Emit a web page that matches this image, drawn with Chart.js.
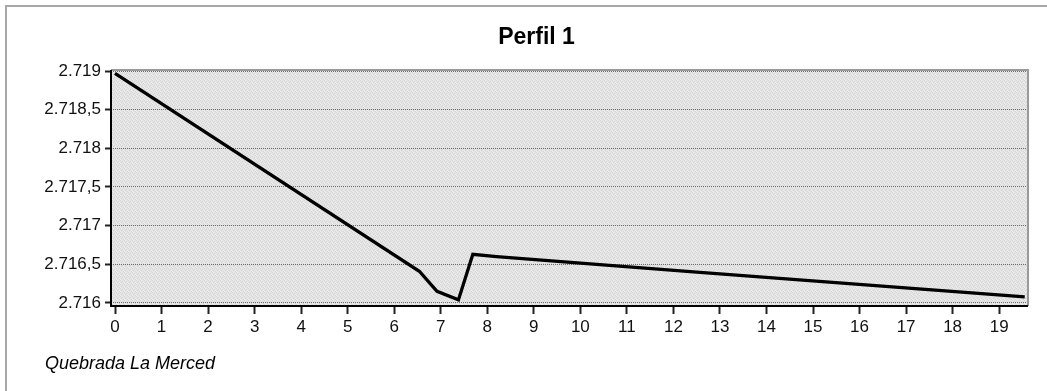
<!DOCTYPE html>
<html>
<head>
<meta charset="utf-8">
<script src="https://cdn.jsdelivr.net/npm/chart.js@4"></script>
<style>
  html, body { margin: 0; padding: 0; background: #fff; }
  #wrap { position: absolute; left: 0; top: 0; width: 1047px; height: 391px; }
</style>
</head>
<body>
<div id="wrap"><canvas id="c" width="1047" height="391"></canvas></div>
<script>
// ---- data ----
const distances = [0.0, 6.54, 6.92, 7.38, 7.69, 8.2, 12.5, 19.55];
const elevations = [2718.97, 2716.41, 2716.15, 2716.04, 2716.63, 2716.60, 2716.40, 2716.08];
const xTickValues = [0,1,2,3,4,5,6,7,8,9,10,11,12,13,14,15,16,17,18,19];
const xTickLabels = ['0','1','2','3','4','5','6','7','8','9','10','11','12','13','14','15','16','17','18','19'];
const yTickValues = [2716, 2716.5, 2717, 2717.5, 2718, 2718.5, 2719];
const yTickLabels = ['2.716', '2.716,5', '2.717', '2.717,5', '2.718', '2.718,5', '2.719'];
const titleText = 'Perfil 1';
const footerText = 'Quebrada La Merced';

// background pattern for the plot area
const pc = document.createElement('canvas');
pc.width = 4; pc.height = 4;
const px = pc.getContext('2d');
px.fillStyle = '#e4e4e4'; px.fillRect(0, 0, 4, 4);
px.fillStyle = '#d4d4d4';
[[0,0],[2,1],[1,2],[3,3]].forEach(p => px.fillRect(p[0], p[1], 1, 1));
px.fillStyle = '#eeeeee';
[[1,0],[3,2],[0,3]].forEach(p => px.fillRect(p[0], p[1], 1, 1));

const decor = {
  id: 'decor',
  beforeDraw(chart) {
    const ctx = chart.ctx;
    const a = chart.chartArea;
    ctx.save();
    ctx.fillStyle = '#ffffff';
    ctx.fillRect(0, 0, chart.width, chart.height);
    // outer frame (left + top)
    ctx.strokeStyle = '#a8a8a8';
    ctx.lineWidth = 2;
    ctx.beginPath();
    ctx.moveTo(6, chart.height);
    ctx.lineTo(6, 6);
    ctx.lineTo(chart.width, 6);
    ctx.stroke();
    // plot background
    ctx.fillStyle = ctx.createPattern(pc, 'repeat');
    ctx.fillRect(a.left, a.top, a.right - a.left, a.bottom - a.top);
    ctx.restore();
  },
  afterDraw(chart) {
    const ctx = chart.ctx;
    const a = chart.chartArea;
    ctx.save();
    ctx.setLineDash([]);
    ctx.strokeStyle = '#9a9a9a';
    ctx.lineWidth = 2;
    ctx.beginPath();
    ctx.moveTo(a.left, a.top);
    ctx.lineTo(a.right, a.top);
    ctx.lineTo(a.right, a.bottom);
    ctx.stroke();
    // solid black axis lines (left + bottom)
    ctx.strokeStyle = '#000';
    ctx.beginPath();
    ctx.moveTo(a.left, a.top);
    ctx.lineTo(a.left, a.bottom);
    ctx.lineTo(a.right, a.bottom);
    ctx.stroke();
    ctx.restore();
  }
};

const tickFont = { family: 'Liberation Sans, Arial, sans-serif', size: 17 };

new Chart(document.getElementById('c'), {
  type: 'scatter',
  data: {
    datasets: [{
      data: distances.map((d, i) => ({ x: d, y: elevations[i] })),
      showLine: true,
      borderColor: '#000000',
      borderWidth: 3.3,
      pointRadius: 0,
      tension: 0,
      fill: false
    }]
  },
  options: {
    responsive: false,
    animation: false,
    devicePixelRatio: 1,
    layout: { padding: { left: 45, right: 19, top: 0, bottom: 0 } },
    plugins: {
      legend: { display: false },
      tooltip: { enabled: false },
      title: {
        display: true,
        text: titleText,
        color: '#000',
        font: { family: 'Liberation Sans, Arial, sans-serif', size: 23, weight: 'bold', lineHeight: 1.2 },
        padding: { top: 24, bottom: 18.4 }
      },
      subtitle: {
        display: true,
        position: 'bottom',
        align: 'start',
        text: footerText,
        color: '#000',
        font: { family: 'Liberation Sans, Arial, sans-serif', size: 18, style: 'italic', lineHeight: 1.2 },
        padding: { top: 12, bottom: 16.4 }
      }
    },
    scales: {
      x: {
        type: 'linear',
        min: -0.086,
        max: 19.62,
        afterFit(s) { s.height = 35; },
        afterBuildTicks(s) { s.ticks = xTickValues.map(v => ({ value: v })); },
        border: { display: false },
        grid: { display: true, drawOnChartArea: false, drawTicks: true, tickLength: 8, tickColor: '#222', tickWidth: 2 },
        ticks: {
          color: '#111',
          padding: 3,
          maxRotation: 0,
          autoSkip: false,
          font: tickFont,
          callback(v) { const i = xTickValues.indexOf(v); return i >= 0 ? xTickLabels[i] : ''; }
        }
      },
      y: {
        type: 'linear',
        min: 2715.961,
        max: 2719.013,
        afterFit(s) { s.width = 66; },
        afterBuildTicks(s) { s.ticks = yTickValues.map(v => ({ value: v })); },
        border: { display: false, dash: [1, 1] },
        grid: { display: true, drawOnChartArea: true, color: '#6e6e6e', lineWidth: 1, drawTicks: true, tickLength: 6, tickColor: '#222', tickWidth: 2, tickBorderDash: [] },
        ticks: {
          color: '#111',
          padding: 4,
          autoSkip: false,
          font: tickFont,
          callback(v) { const i = yTickValues.indexOf(v); return i >= 0 ? yTickLabels[i] : ''; }
        }
      }
    }
  },
  plugins: [decor]
});
</script>
</body>
</html>
